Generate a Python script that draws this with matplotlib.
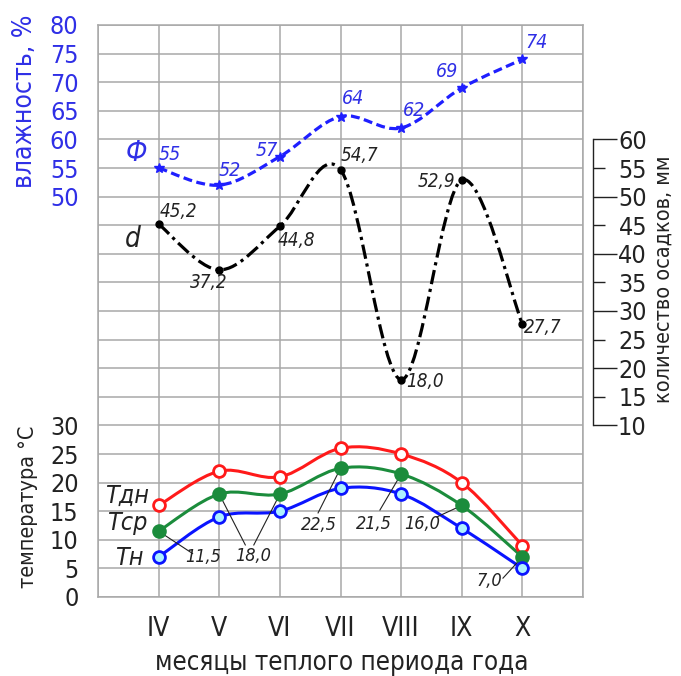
import os
import numpy as np
import matplotlib
matplotlib.use("Agg")
import matplotlib.pyplot as plt
from matplotlib import font_manager as fm
from matplotlib.path import Path
from matplotlib.patches import PathPatch

# --------------------------------------------------------------------------
# Data
# --------------------------------------------------------------------------
months = ["IV", "V", "VI", "VII", "VIII", "IX", "X"]
humidity = [55, 52, 57, 64, 62, 69, 74]                 # %
precip = [45.2, 37.2, 44.8, 54.7, 18.0, 52.9, 27.7]     # mm
t_day = [16, 22, 21, 26, 25, 20, 9]                     # deg C
t_mean = [11.5, 18.0, 18.0, 22.5, 21.5, 16.0, 7.0]
t_night = [7, 14, 15, 19, 18, 12, 5]

hum_ticks = [50, 55, 60, 65, 70, 75, 80]
temp_ticks = [0, 5, 10, 15, 20, 25, 30]
precip_ticks = [10, 15, 20, 25, 30, 35, 40, 45, 50, 55, 60]

# all three scales share one grid: 5 units per row;
# temperature t sits at t - 20 in humidity units, precipitation 1:1
T_SHIFT = -20

BLUE = "#1f1fff"
BLUE_TXT = "#2f2fe6"
RED = "#ff1a1a"
GREEN = "#1b8c3c"
TBLUE = "#0a14ff"
TXT = "#222222"
GRID = "#a8a8a8"


# pick a narrow font if the system has one (drawing-standard look)
def pick_narrow():
    prefs = ["LiberationSansNarrow-Regular", "NotoSans-Condensed.",
             "DejaVuSansCondensed.", "RobotoCondensed-Regular",
             "OpenSans_Condensed-Regular", "NotoSans-ExtraCondensed."]
    fonts = fm.fontManager.ttflist
    for p in prefs:
        for f in fonts:
            if os.path.basename(f.fname).startswith(p):
                return f.name, f.stretch
    for f in fonts:
        b = os.path.basename(f.fname)
        if ("Condensed" in b or "Narrow" in b) and "Bold" not in b \
                and "Italic" not in b and "Light" not in b:
            return f.name, f.stretch
    return None, "normal"


fam, stretch = pick_narrow()
plt.rcParams["font.family"] = ([fam] if fam else []) + ["DejaVu Sans"]
plt.rcParams["font.stretch"] = stretch


def smooth_path(xs, ys):
    """Cubic Bezier path through the points (Catmull-Rom tangents)."""
    pts = np.column_stack([xs, ys]).astype(float)
    ext = np.vstack([pts[0], pts, pts[-1]])
    verts = [pts[0]]
    codes = [Path.MOVETO]
    for i in range(len(pts) - 1):
        p0, p1, p2, p3 = ext[i], ext[i + 1], ext[i + 2], ext[i + 3]
        verts += [p1 + (p2 - p0) / 6, p2 - (p3 - p1) / 6, p2]
        codes += [Path.CURVE4] * 3
    return Path(verts, codes)


fig = plt.figure(figsize=(6.81, 6.76), dpi=100)
ax = fig.add_axes([98 / 681, 1 - 597 / 676, 485 / 681, 572 / 676])

x = np.arange(1, len(months) + 1)
ax.set_xlim(0, 8)
ax.set_ylim(-20, 80)

# grid
for yy in np.arange(-20, 81, 5):
    ax.axhline(yy, color=GRID, lw=1.1, zorder=0)
for xx in range(0, 9):
    ax.axvline(xx, color=GRID, lw=1.1, zorder=0)
for s in ax.spines.values():
    s.set_color(GRID)
    s.set_linewidth(1.1)

# humidity
ax.add_patch(PathPatch(smooth_path(x, humidity), fill=False, edgecolor=BLUE,
                       lw=2.3, linestyle=(0, (2.8, 1.4)), zorder=3))
ax.plot(x, humidity, ls="none", marker="*", ms=7, color=BLUE, zorder=4)

# precipitation
ax.add_patch(PathPatch(smooth_path(x, precip), fill=False, edgecolor="black",
                       lw=2.3, linestyle=(0, (4.5, 1.5, 1, 1.5)), zorder=3))
ax.plot(x, precip, ls="none", marker="o", ms=5, color="black", zorder=4)

# temperatures
for vals, col, face in [(t_day, RED, "white"),
                        (t_mean, GREEN, GREEN),
                        (t_night, TBLUE, "#aef2ff")]:
    yv = np.array(vals) + T_SHIFT
    ax.add_patch(PathPatch(smooth_path(x, yv), fill=False, edgecolor=col,
                           lw=2.2, zorder=3))
    ax.plot(x, yv, ls="none", marker="o", ms=8.5, mfc=face, mec=col,
            mew=2, zorder=5)

# left ticks: humidity (blue) + temperature (dark)
ax.set_xticks(x)
ax.set_xticklabels(months, fontsize=19, color=TXT)
ax.tick_params(axis="x", length=0, pad=14)
ax.set_yticks(hum_ticks + [t + T_SHIFT for t in temp_ticks])
ax.set_yticklabels([str(v) for v in hum_ticks] + [str(v) for v in temp_ticks],
                   fontsize=18)
for lab in ax.get_yticklabels()[:len(hum_ticks)]:
    lab.set_color(BLUE_TXT)
for lab in ax.get_yticklabels()[len(hum_ticks):]:
    lab.set_color(TXT)
ax.tick_params(axis="y", length=0, pad=14)

fig.text(342 / 681, 6 / 676, "месяцы теплого периода года", fontsize=18.5,
         color=TXT, ha="center", va="baseline")
ax.text(-0.151, 0.867, "влажность, %", transform=ax.transAxes, rotation=90,
        fontsize=19, color=BLUE_TXT, ha="center", va="center")
ax.text(-0.145, 0.157, "температура °С", transform=ax.transAxes, rotation=90,
        fontsize=15.5, color=TXT, ha="center", va="center")

# right precipitation axis
ax2 = ax.twinx()
ax2.set_ylim(-20, 80)
for side in ["top", "bottom", "left"]:
    ax2.spines[side].set_visible(False)
ax2.spines["right"].set_position(("axes", (593 - 98) / 485))
ax2.spines["right"].set_bounds(10, 60)
ax2.spines["right"].set_color(TXT)
ax2.spines["right"].set_linewidth(1)
ax2.set_yticks([v for v in precip_ticks if v % 10 == 0])
ax2.set_yticks([v for v in precip_ticks if v % 10 != 0], minor=True)
ax2.set_yticklabels([str(v) for v in precip_ticks if v % 10 == 0])
ax2.set_yticklabels([str(v) for v in precip_ticks if v % 10 != 0], minor=True)
ax2.tick_params(axis="y", which="major", length=17, width=1, color=TXT,
                labelsize=18, labelcolor=TXT, pad=1)
ax2.tick_params(axis="y", which="minor", length=8.5, width=1, color=TXT,
                labelsize=18, labelcolor=TXT, pad=10)
ax2.text((664 - 98) / 485, 0.556, "количество осадков, мм",
         transform=ax.transAxes, rotation=90, fontsize=15.5, color=TXT,
         ha="center", va="center")

# series names
ax.text(0.64, 57.6, "Ф", fontsize=20, style="italic", color=BLUE_TXT,
        ha="center", va="center")
ax.text(0.58, 42.6, "d", fontsize=20, style="italic", color=TXT,
        ha="center", va="center")
ax.text(0.48, 17.7 + T_SHIFT, "Tдн", fontsize=18, style="italic", color=TXT,
        ha="center", va="center")
ax.text(0.48, 12.9 + T_SHIFT, "Tср", fontsize=18, style="italic", color=TXT,
        ha="center", va="center")
ax.text(0.52, 6.8 + T_SHIFT, "Tн", fontsize=18, style="italic", color=TXT,
        ha="center", va="center")

# humidity value labels
hum_pos = [(1.19, 57.3), (2.18, 54.5), (2.79, 58.0), (4.21, 67.1),
           (5.21, 65.1), (5.76, 71.8), (7.23, 77.0)]
for (px, py), v in zip(hum_pos, humidity):
    ax.text(px, py, str(v), fontsize=14, style="italic", color=BLUE_TXT,
            ha="center", va="center")

# precipitation value labels
pr_pos = [(1.32, 47.4), (1.83, 34.9), (3.28, 42.4), (4.32, 57.1),
          (5.40, 17.6), (5.58, 52.7), (7.34, 27.2)]
for (px, py), v in zip(pr_pos, precip):
    ax.text(px, py, f"{v:.1f}".replace(".", ","), fontsize=13.5,
            style="italic", color=TXT, ha="center", va="center")

# mean temperature labels with leader lines
lab_pos = [(1.73, 7.0), (2.56, 7.2), (2.56, 7.2), (3.65, 12.6),
           (4.55, 12.8), (5.35, 12.8), (6.45, 2.75)]
lead_from = [(1.56, 7.6), (2.43, 9.1), (2.57, 9.1), (3.63, 14.7),
             (4.65, 15.2), (5.59, 14.0), (6.68, 3.3)]
for i, v in enumerate(t_mean):
    fx, fy = lead_from[i]
    ax.plot([fx, x[i]], [fy + T_SHIFT, v + T_SHIFT], color=TXT, lw=0.8,
            zorder=4)
    if i == 2:
        continue
    px, py = lab_pos[i]
    ax.text(px, py + T_SHIFT, f"{v:.1f}".replace(".", ","), fontsize=13,
            style="italic", color=TXT, ha="center", va="center")

fig.savefig("out.png", dpi=100)
